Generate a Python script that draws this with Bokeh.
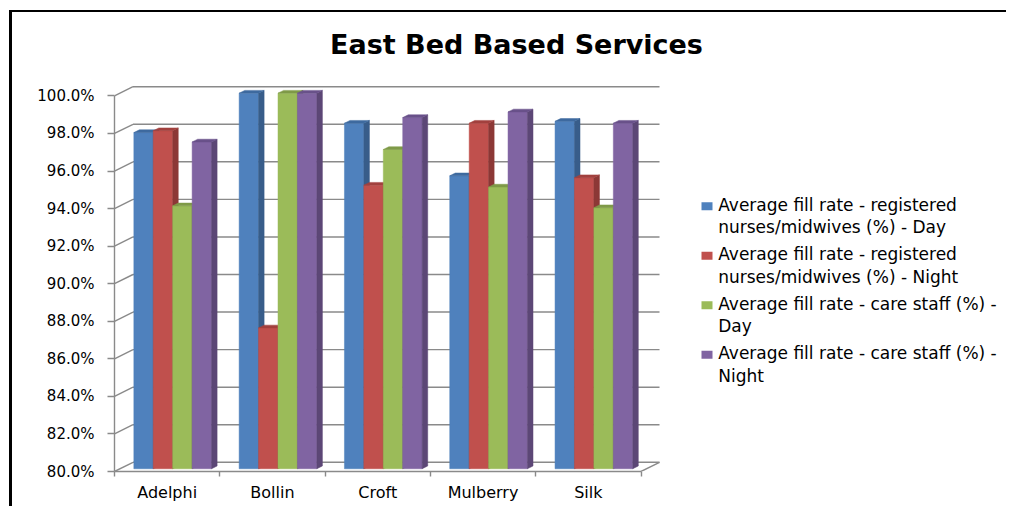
from bokeh.plotting import figure
from bokeh.models import Range1d, FixedTicker, PrintfTickFormatter, Label, ColumnDataSource
from bokeh.embed import file_html
from bokeh.resources import INLINE

# ---------------- data ----------------
categories = ["Adelphi", "Bollin", "Croft", "Mulberry", "Silk"]
rn_day = [97.9, 100.0, 98.4, 95.6, 98.5]
rn_night = [98.0, 87.5, 95.1, 98.4, 95.5]
cs_day = [94.0, 100.0, 97.0, 95.0, 93.9]
cs_night = [97.4, 100.0, 98.7, 99.0, 98.4]
series_labels = [
    "Average fill rate - registered\nnurses/midwives  (%) - Day",
    "Average fill rate - registered\nnurses/midwives  (%) - Night",
    "Average fill rate - care staff (%) -\nDay",
    "Average fill rate - care staff (%) -\nNight",
]
y_ticks = [80, 82, 84, 86, 88, 90, 92, 94, 96, 98, 100]
chart_title = "East Bed Based Services"

# ---------------- styles / layout ----------------
front_colors = ["#4F81BD", "#C0504D", "#9BBB59", "#8064A2"]
side_colors = ["#385D8A", "#8C3836", "#71893F", "#5C4776"]
top_colors = ["#3E6A9F", "#A2403E", "#7F9A48", "#69518A"]
grid_color = "#8A8A8A"
FONT = "DejaVu Sans"

CANVAS_X, CANVAS_Y = 12, 12          # page position of canvas (css margin + border)
W, H = 997, 496
ML, MT, MR, MB = 102, 0, 0, 37
PX_X = 105.3   # px per category
PX_Y = 18.78   # px per percent
frame_w = W - ML - MR
frame_h = H - MT - MB
Y0 = 80
FRAME_LEFT_PX = CANVAS_X + ML
FRAME_BOTTOM_PX = CANVAS_Y + H - MB
x_end = frame_w / PX_X
y_end = Y0 + frame_h / PX_Y
DX = 18.5 / PX_X      # wall depth in data units
DY = 9.2 / PX_Y
Z0, DZ = 0.3, 0.3     # bar depth position / thickness (fraction of wall depth)
BAR_W = 0.1845


def px_x(px):
    return (px - FRAME_LEFT_PX) / PX_X


def px_y(py):
    return Y0 + (FRAME_BOTTOM_PX - py) / PX_Y


p = figure(width=W, height=H, output_backend="svg", toolbar_location=None,
           x_range=Range1d(0, x_end), y_range=Range1d(Y0, y_end),
           min_border_left=ML, min_border_top=MT, min_border_right=MR, min_border_bottom=MB,
           styles={"margin-left": "9px", "margin-top": "10px",
                   "border-top": "2px solid black", "border-left": "3px solid black"})
p.outline_line_color = None
p.xgrid.visible = False
p.ygrid.visible = False
p.background_fill_color = "white"
p.border_fill_color = "white"

n = len(categories)
# back wall gridlines and left wall diagonals
p.segment(x0=[DX] * len(y_ticks), y0=[t + DY for t in y_ticks],
          x1=[n + DX] * len(y_ticks), y1=[t + DY for t in y_ticks],
          line_color=grid_color, line_width=1.4)
p.segment(x0=[0] * len(y_ticks), y0=y_ticks,
          x1=[DX] * len(y_ticks), y1=[t + DY for t in y_ticks],
          line_color=grid_color, line_width=1.4)
# floor right edge
p.segment(x0=[n], y0=[Y0], x1=[n + DX], y1=[Y0 + DY], line_color=grid_color, line_width=1.4)

all_series = [rn_day, rn_night, cs_day, cs_night]
ddx, ddy = DZ * DX, DZ * DY
for j, vals in enumerate(all_series):
    left = [i + 0.5 - 2 * BAR_W + j * BAR_W + Z0 * DX for i in range(n)]
    right = [l + BAR_W for l in left]
    bottom = [Y0 + Z0 * DY] * n
    top = [v + Z0 * DY for v in vals]
    src = ColumnDataSource(dict(left=left, right=right, bottom=bottom, top=top))
    p.quad(left="left", right="right", bottom="bottom", top="top", source=src,
           fill_color=front_colors[j], line_color=front_colors[j], line_width=0.5)
    side_xs = [[r_, r_ + ddx, r_ + ddx, r_] for r_ in right]
    side_ys = [[b, b + ddy, t + ddy, t] for b, t in zip(bottom, top)]
    p.patches(side_xs, side_ys, fill_color=side_colors[j], line_color=side_colors[j], line_width=0.5)
    top_xs = [[l, r_, r_ + ddx, l + ddx] for l, r_ in zip(left, right)]
    top_ys = [[t, t, t + ddy, t + ddy] for t in top]
    p.patches(top_xs, top_ys, fill_color=top_colors[j], line_color=top_colors[j], line_width=0.5)

# axes
ya = p.yaxis[0]
ya.ticker = FixedTicker(ticks=y_ticks, minor_ticks=[])
ya.formatter = PrintfTickFormatter(format="%.1f%%")
ya.bounds = (Y0, 100)
ya.axis_line_color = grid_color
ya.axis_line_width = 1.4
ya.major_tick_line_color = grid_color
ya.major_tick_line_width = 1.4
ya.major_tick_out = 7
ya.major_tick_in = 0
ya.minor_tick_line_color = None
ya.major_label_standoff = 13
ya.major_label_text_font = FONT
ya.major_label_text_font_size = "15px"
ya.major_label_text_color = "black"

xa = p.xaxis[0]
xa.ticker = FixedTicker(ticks=[i + 0.5 for i in range(n)], minor_ticks=list(range(n + 1)))
xa.major_label_overrides = {i + 0.5: c for i, c in enumerate(categories)}
xa.bounds = (0, n)
xa.axis_line_color = grid_color
xa.axis_line_width = 1.4
xa.major_tick_line_color = None
xa.major_tick_out = 0
xa.major_tick_in = 0
xa.minor_tick_line_color = grid_color
xa.minor_tick_line_width = 1.4
xa.minor_tick_out = 5
xa.minor_tick_in = 0
xa.major_label_standoff = 6
xa.major_label_text_font = FONT
xa.major_label_text_font_size = "16px"
xa.major_label_text_color = "black"

# title
p.add_layout(Label(x=px_x(516), y=px_y(44), text=chart_title, text_font=FONT,
                   text_font_style="bold", text_font_size="27px", text_align="center",
                   text_baseline="middle", text_color="black"))

# legend (swatch aligned with first line of each two-line entry)
LEG_SWATCH_X = 706.5
LEG_TEXT_X = 717.7
LEG_FIRST_CENTER = 215.5
LEG_PITCH = 49.5
LEG_HALF_LINE = 9.65
sw_x = [px_x(LEG_SWATCH_X)] * 4
sw_y = [px_y(LEG_FIRST_CENTER + k * LEG_PITCH - LEG_HALF_LINE) for k in range(4)]
p.rect(x=sw_x, y=sw_y, width=11, height=8, width_units="screen", height_units="screen",
       fill_color=front_colors, line_color=None)
for k, lab in enumerate(series_labels):
    p.add_layout(Label(x=px_x(LEG_TEXT_X), y=px_y(LEG_FIRST_CENTER + k * LEG_PITCH), text=lab,
                       text_font=FONT, text_font_size="17px", text_color="black",
                       text_align="left", text_baseline="middle", text_line_height=1.135))

open("out.html", "w").write(file_html(p, INLINE))
